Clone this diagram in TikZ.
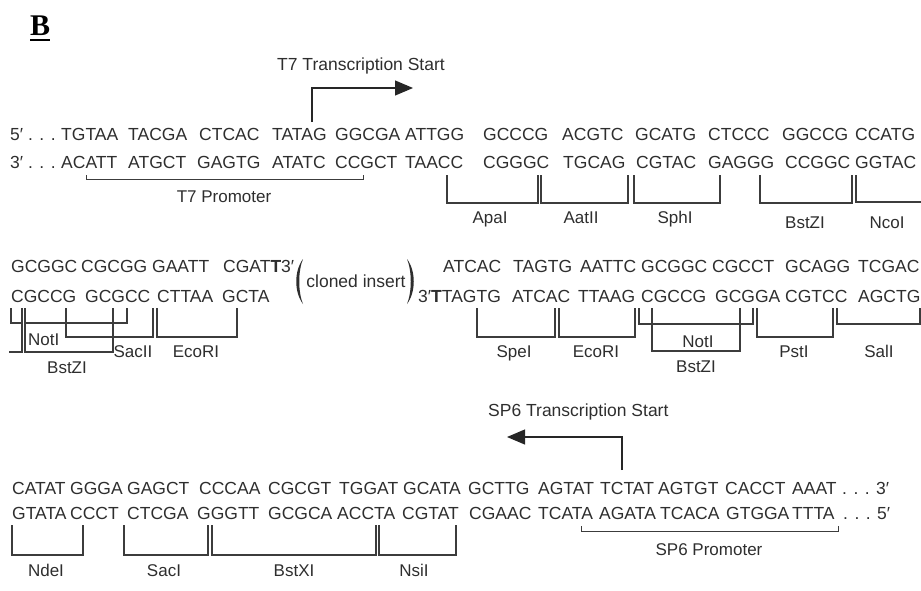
\documentclass[tikz,border=0pt]{standalone}
\usepackage{fontspec}
\setmainfont{Liberation Sans}
\newfontfamily\panelfont{Liberation Serif}
\usepackage{xcolor}
\usetikzlibrary{arrows.meta}
\definecolor{seq_gray}{HTML}{2e2e2e}
\definecolor{line_gray}{HTML}{3c3c3c}
\tikzset{
  seq/.style={anchor=base west, inner sep=0pt, font=\fontsize{17.5}{20}\selectfont, text=seq_gray},
  sitelabel/.style={anchor=base, inner sep=0pt, font=\fontsize{17}{20}\selectfont, text=seq_gray},
  cutline/.style={line width=1.1pt, draw=line_gray},
  startarrow/.style={line width=1.1pt, draw=black!85, -{Triangle[length=18pt,width=15pt]}},
}
% bracket under a restriction site: left x, right x, top y, bottom y
\newcommand{\cutsite}[4]{\draw[cutline] (#1,#3) |- (#2,#4) -- (#2,#3);}

\begin{document}
\begin{tikzpicture}[x=1pt, y=-1pt, line cap=butt, line join=miter]
    \useasboundingbox (0,0) rectangle (921,590);

    % Panel letter
    \node[anchor=base west, inner sep=0pt, font=\panelfont\bfseries\fontsize{30}{30}\selectfont] (panel) at (30,35) {B};
    \draw[line width=2pt] ([yshift=-5pt]panel.base west) -- ([yshift=-5pt]panel.base east);

    % ---- Row 1 ----
    \node[seq] (end5) at (10,140) {5′ . . .};
    \node[seq] (end3) at (10,168) {3′ . . .};
    \foreach \x/\s [count=\i] in {61/TGTAA,128/TACGA,199/CTCAC,272/TATAG,335/GGCGA,405/ATTGG,483/GCCCG,562/ACGTC,635/GCATG,708/CTCCC,782/GGCCG,855/CCATG}
        \node[seq] (topa-\i) at (\x,140) {\s};
    \foreach \x/\s [count=\i] in {61/ACATT,128/ATGCT,197/GAGTG,272/ATATC,335/CCGCT,405/TAACC,483/CGGGC,563/TGCAG,636/CGTAC,708/GAGGG,785/CCGGC,855/GGTAC}
        \node[seq] (bota-\i) at (\x,168) {\s};

    % T7 transcription start
    \node[seq] (t7start) at (277,70) {T7 Transcription Start};
    \coordinate (t7foot) at (312,122);
    \coordinate (t7tip) at (413,88);
    \draw[startarrow] (t7foot) |- (t7tip);

    % T7 promoter
    \draw[cutline, line width=0.9pt] (86,175) -- (86,179) -- (363,179) -- (363,175);
    \node[sitelabel] (t7prom) at (224,202) {T7 Promoter};

    % Sites, row 1
    \cutsite{447}{538}{175}{203}
    \cutsite{541}{628}{175}{203}
    \cutsite{634}{720}{175}{203}
    \cutsite{760}{852}{175}{203}
    \draw[cutline] (856,175) |- (922,202);
    \node[sitelabel] (apa) at (490,223) {ApaI};
    \node[sitelabel] (aat) at (581,223) {AatII};
    \node[sitelabel] (sph) at (675,223) {SphI};
    \node[sitelabel] (bstza) at (805,228) {BstZI};
    \node[sitelabel] (nco) at (887,228) {NcoI};

    % ---- Row 2 ----
    \foreach \x/\s [count=\i] in {11/GCGGC,81/CGCGG,152/GAATT}
        \node[seq] (topb-\i) at (\x,272) {\s};
    \node[seq] (topb-end) at (223,272) {CGAT\textbf{T}3′};
    \foreach \x/\s [count=\i] in {443/ATCAC,513/TAGTG,580/AATTC,641/GCGGC,712/CGCCT,785/GCAGG,858/TCGAC}
        \node[seq] (topc-\i) at (\x,272) {\s};
    \foreach \x/\s [count=\i] in {11/CGCCG,85/GCGCC,157/CTTAA,222/GCTA}
        \node[seq] (botb-\i) at (\x,302) {\s};
    \node[seq] (botc-end) at (418,302) {3′\textbf{T}TAGTG};
    \foreach \x/\s [count=\i] in {512/ATCAC,578/TTAAG,641/CGCCG,715/GCGGA,785/CGTCC,858/AGCTG}
        \node[seq] (botc-\i) at (\x,302) {\s};

    % cloned insert
    \node[seq, anchor=base] (insert) at (356,287) {cloned insert};
    \fill[seq_gray] (303,259) .. controls (294,271) and (294,292) .. (303,304)
                    .. controls (298,292) and (298,271) .. (303,259);
    \fill[seq_gray] (407,259) .. controls (416,271) and (416,292) .. (407,304)
                    .. controls (412,292) and (412,271) .. (407,259);

    % Sites, row 2 left
    \draw[cutline] (11,308) |- (22,323);
    \draw[cutline] (9,352) -| (22,308);
    \cutsite{25}{127}{308}{323}
    \cutsite{25}{113}{308}{352}
    \cutsite{66}{153}{308}{337}
    \cutsite{157}{237}{308}{337}
    \node[sitelabel, anchor=base west] (nota) at (28,345) {NotI};
    \node[sitelabel] (bstzb) at (67,373) {BstZI};
    \node[sitelabel] (sac2) at (133,357) {SacII};
    \node[sitelabel] (ecoa) at (196,357) {EcoRI};

    % Sites, row 2 right
    \cutsite{477}{555}{308}{337}
    \cutsite{559}{635}{308}{337}
    \cutsite{639}{753}{308}{324}
    \cutsite{652}{740}{308}{351}
    \cutsite{757}{833}{308}{337}
    \cutsite{837}{920}{308}{324}
    \node[sitelabel] (spe) at (514,357) {SpeI};
    \node[sitelabel] (ecob) at (596,357) {EcoRI};
    \node[sitelabel] (notb) at (698,347) {NotI};
    \node[sitelabel] (bstzc) at (696,372) {BstZI};
    \node[sitelabel] (pst) at (794,357) {PstI};
    \node[sitelabel] (sal) at (879,357) {SalI};

    % ---- Row 3 ----
    \node[seq] (sp6start) at (488,416) {SP6 Transcription Start};
    \coordinate (sp6foot) at (622,470);
    \coordinate (sp6tip) at (507,437);
    \draw[startarrow] (sp6foot) |- (sp6tip);

    \foreach \x/\s [count=\i] in {12/CATAT,70/GGGA,127/GAGCT,199/CCCAA,268/CGCGT,339/TGGAT,403/GCATA,468/GCTTG,538/AGTAT,600/TCTAT,658/AGTGT,725/CACCT,792/AAAT}
        \node[seq] (topd-\i) at (\x,494) {\s};
    \node[seq] (end3b) at (842,494) {. . . 3′};
    \foreach \x/\s [count=\i] in {12/GTATA,70/CCCT,127/CTCGA,197/GGGTT,268/GCGCA,337/ACCTA,402/CGTAT,469/CGAAC,538/TCATA,599/AGATA,660/TCACA,726/GTGGA,792/TTTA}
        \node[seq] (botd-\i) at (\x,519) {\s};
    \node[seq] (end5b) at (843,519) {. . . 5′};

    % Sites, row 3
    \cutsite{12}{83}{525}{555}
    \cutsite{124}{208}{525}{555}
    \cutsite{212}{376}{525}{555}
    \cutsite{379}{456}{525}{555}
    \node[sitelabel] (nde) at (46,576) {NdeI};
    \node[sitelabel] (sac1) at (164,576) {SacI};
    \node[sitelabel] (bstx) at (294,576) {BstXI};
    \node[sitelabel] (nsi) at (414,576) {NsiI};

    % SP6 promoter
    \draw[cutline, line width=0.9pt] (581,526) -- (581,531) -- (838,531) -- (838,526);
    \node[sitelabel] (sp6prom) at (709,555) {SP6 Promoter};
\end{tikzpicture}
\end{document}
